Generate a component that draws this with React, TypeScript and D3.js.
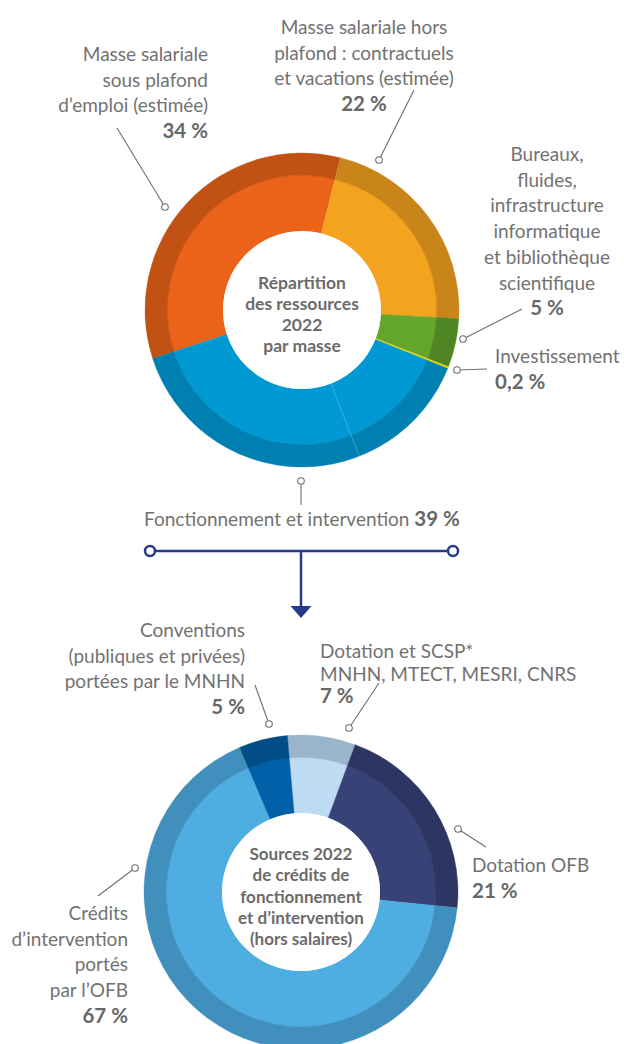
import React from "react";
import * as d3 from "d3";

// ---------- DATA ----------
const topCategories = [
  "Masse salariale sous plafond d’emploi (estimée)",
  "Masse salariale hors plafond : contractuels et vacations (estimée)",
  "Bureaux, fluides, infrastructure informatique et bibliothèque scientifique",
  "Investissement",
  "Fonctionnement et intervention",
];
const topValues = [34, 22, 5, 0.2, 39];
const topPctLabels = ["34 %", "22 %", "5 %", "0,2 %", "39 %"];
// split of the blue "Fonctionnement et intervention" slice (faint internal line)
const blueSplit = [13, 26];

const bottomCategories = [
  "Dotation et SCSP* MNHN, MTECT, MESRI, CNRS",
  "Dotation OFB",
  "Crédits d’intervention portés par l’OFB",
  "Conventions (publiques et privées) portées par le MNHN",
];
const bottomValues = [7, 21, 67, 5];
const bottomPctLabels = ["7 %", "21 %", "67 %", "5 %"];

// ---------- STYLE ----------
const topInner = ["#EB6219", "#F4A31F", "#64A62B", "#F2D600", "#0099D3"];
const topOuter = ["#C25114", "#C98519", "#4F8623", "#F2D600", "#0080B1"];
const botInner = ["#BDDCF4", "#374277", "#4FAEE1", "#0060A8"];
const botOuter = ["#9AB4CB", "#2D3562", "#418FBC", "#004D88"];

const FONT = "Lato, 'Open Sans', sans-serif";
const GREY = "#727272";
const BOLDGREY = "#686868";
const NAVY = "#27398A";
const FS = 19;
const FSB = 20.5;

const deg = Math.PI / 180;

function Donut({ cx, cy, values, inner, outer, start, rHole, rBand, rOut, extra }: any) {
  const pie = d3.pie<number>().sort(null).value((d) => d).startAngle(start).endAngle(start + 2 * Math.PI);
  const arcs = pie(values);
  const aIn = d3.arc<any>().innerRadius(rHole).outerRadius(rBand);
  const aOut = d3.arc<any>().innerRadius(rBand - 0.3).outerRadius(rOut);
  return (
    <g transform={`translate(${cx},${cy})`}>
      {arcs.map((a, i) => (
        <path key={"i" + i} d={aIn(a) || ""} fill={inner[i]} stroke={inner[i]} strokeWidth={0.4} />
      ))}
      {arcs.map((a, i) => (
        <path key={"o" + i} d={aOut(a) || ""} fill={outer[i]} stroke={outer[i]} strokeWidth={0.4} />
      ))}
      {extra ? extra(arcs) : null}
      <circle r={rHole} fill="#fff" />
    </g>
  );
}

function Lines({ x, y, lines, anchor, lh = 25.7, boldLast = true }: any) {
  return (
    <text x={x} y={y} textAnchor={anchor} fontFamily={FONT} fontSize={FS} fill={GREY} dominantBaseline="central">
      {lines.map((l: string, i: number) => {
        const b = boldLast && i === lines.length - 1;
        return (
          <tspan key={i} x={x} y={y + i * lh} fontWeight={b ? 700 : 400} fontSize={b ? FSB : FS} fill={b ? BOLDGREY : GREY}>
            {l}
          </tspan>
        );
      })}
    </text>
  );
}

function Leader({ x1, y1, x2, y2 }: any) {
  return (
    <g>
      <line x1={x1} y1={y1} x2={x2} y2={y2} stroke="#6E6E6E" strokeWidth={1.1} />
      <circle cx={x2} cy={y2} r={3.3} fill="#fff" stroke="#6E6E6E" strokeWidth={1.1} />
    </g>
  );
}

function CenterText({ x, y, lines, lh, fs }: any) {
  return (
    <text x={x} textAnchor="middle" fontFamily={FONT} fontSize={fs} fontWeight={700} fill="#6B6B6B" dominantBaseline="central">
      {lines.map((l: string, i: number) => (
        <tspan key={i} x={x} y={y + i * lh}>
          {l}
        </tspan>
      ))}
    </text>
  );
}

export default function App() {
  const tcx = 302, tcy = 310;
  const bcx = 301, bcy = 892;
  const topStart = -108 * deg;
  const botStart = -5 * deg;

  const topExtra = (arcs: any[]) => {
    const b = arcs[4];
    const total = d3.sum(blueSplit);
    const ang = b.startAngle + ((b.endAngle - b.startAngle) * blueSplit[0]) / total;
    const s = Math.sin(ang), c = -Math.cos(ang);
    return (
      <line x1={79 * s} y1={79 * c} x2={157 * s} y2={157 * c} stroke="#ffffff" strokeOpacity={0.35} strokeWidth={0.7} />
    );
  };

  return (
    <svg width={624} height={1044} style={{ position: "absolute", left: 0, top: 0, background: "#fff" }}>
      <Donut cx={tcx} cy={tcy} values={topValues} inner={topInner} outer={topOuter} start={topStart} rHole={79} rBand={135} rOut={157} extra={topExtra} />
      <CenterText x={tcx} y={282} lh={21} fs={17.5} lines={["Répartition", "des ressources", "2022", "par masse"]} />

      {/* top labels */}
      <Lines x={208} y={53} anchor="end" lines={["Masse salariale", "sous plafond", "d’emploi (estimée)", topPctLabels[0]]} />
      <Leader x1={117} y1={128} x2={165} y2={207} />
      <Lines x={364} y={26} anchor="middle" lines={["Masse salariale hors", "plafond : contractuels", "et vacations (estimée)", topPctLabels[1]]} />
      <Leader x1={414} y1={90} x2={379} y2={160} />
      <Lines x={547} y={153} anchor="middle" lines={["Bureaux,", "fluides,", "infrastructure", "informatique", "et bibliothèque", "scientifique", topPctLabels[2]]} />
      <Leader x1={522} y1={309} x2={463} y2={339} />
      <Lines x={495} y={355} anchor="start" lines={[topCategories[3], topPctLabels[3]]} />
      <Leader x1={487} y1={369} x2={457} y2={370} />
      <Leader x1={301} y1={505} x2={301} y2={481} />
      <text x={302} y={518} textAnchor="middle" fontFamily={FONT} fontSize={FS} fill={GREY} dominantBaseline="central">
        {topCategories[4]} <tspan fontWeight={700} fontSize={FSB} fill={BOLDGREY}>{topPctLabels[4]}</tspan>
      </text>

      {/* connector */}
      <g stroke={NAVY} strokeWidth={2.5} fill="none">
        <line x1={150} y1={551} x2={453} y2={551} />
        <line x1={301} y1={551} x2={301} y2={608} />
        <circle cx={150} cy={551} r={5} fill="#fff" />
        <circle cx={453} cy={551} r={5} fill="#fff" />
      </g>
      <path d="M290.5,606 L311.5,606 L301,618 Z" fill={NAVY} />

      <Donut cx={bcx} cy={bcy} values={bottomValues} inner={botInner} outer={botOuter} start={botStart} rHole={79} rBand={135} rOut={157} />
      <CenterText x={bcx} y={853} lh={21.3} fs={17} lines={["Sources 2022", "de crédits de", "fonctionnement", "et d’intervention", "(hors salaires)"]} />

      {/* bottom labels */}
      <Lines x={245} y={629} anchor="end" lines={["Conventions", "(publiques et privées)", "portées par le MNHN", bottomPctLabels[3]]} />
      <Leader x1={255} y1={685} x2={269} y2={724} />
      <Lines x={320} y={650} anchor="start" lh={22.5} lines={["Dotation et SCSP*", "MNHN, MTECT, MESRI, CNRS", bottomPctLabels[0]]} />
      <Leader x1={379} y1={683} x2={349} y2={728} />
      <Lines x={472} y={864} anchor="start" lines={[bottomCategories[1], bottomPctLabels[1]]} />
      <Leader x1={486} y1={847} x2={458} y2={829} />
      <Lines x={128} y={912} anchor="end" lines={["Crédits", "d’intervention", "portés", "par l’OFB", bottomPctLabels[2]]} />
      <Leader x1={98} y1={896} x2={135} y2={868} />
    </svg>
  );
}
